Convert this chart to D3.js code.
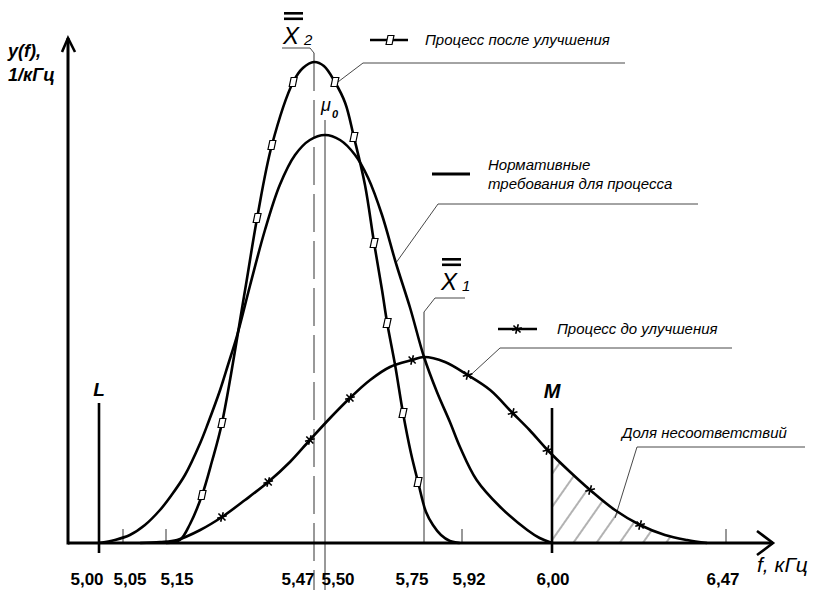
<!DOCTYPE html>
<html>
<head>
<meta charset="utf-8">
<script src="https://cdn.jsdelivr.net/npm/d3@7"></script>
<style>
  body { margin: 0; background: #fff; }
  text { fill: #000; }
  .lbl { font-family: "Liberation Sans", Arial, sans-serif; font-style: italic; font-size: 15px; }
  .tick-lbl { font-family: "Liberation Sans Narrow", "Arial Narrow", sans-serif; font-weight: bold; font-size: 17px; }
  .axis-lbl { font-family: "Liberation Sans Narrow", "Arial Narrow", sans-serif; font-style: italic; }
</style>
</head>
<body>
<svg id="chart" width="822" height="591"></svg>
<script>
// f axis, kHz (the drawing is not to scale, so the scale is piecewise)
const tickValues = [5.00, 5.05, 5.15, 5.47, 5.50, 5.75, 5.92, 6.00, 6.47];
const tickLabels = ["5,00", "5,05", "5,15", "5,47", "5,50", "5,75", "5,92", "6,00", "6,47"];
const smallTicks = [5.05, 5.15, 5.92, 6.47];
const limitL = 5.00, limitM = 6.00;
const meanX2 = 5.47, mu0 = 5.50, meanX1 = 5.75;

// y(f), 1/kHz  [f, y]
const afterCurve = [
  [5.15, 0], [5.180, 0.018], [5.202, 0.114], [5.228, 0.288], [5.249, 0.486], [5.271, 0.72],
  [5.321, 1.518], [5.347, 1.95], [5.379, 2.388], [5.425, 2.766], [5.446, 2.85], [5.47, 2.886],
  [5.497, 2.862], [5.525, 2.766], [5.551, 2.64], [5.573, 2.436], [5.601, 2.148], [5.624, 1.8],
  [5.644, 1.518], [5.657, 1.32], [5.677, 1.068], [5.697, 0.78], [5.717, 0.54], [5.735, 0.366],
  [5.759, 0.186], [5.790, 0.108], [5.826, 0.048], [5.866, 0.012], [5.91, 0]
];
const afterMarks = [
  [5.228, 0.288], [5.271, 0.72], [5.347, 1.95], [5.379, 2.388], [5.425, 2.766],
  [5.525, 2.766], [5.573, 2.436], [5.624, 1.8], [5.657, 1.32], [5.697, 0.78], [5.735, 0.366]
];
const normCurve = [
  [5.00, 0], [5.033, 0.018], [5.066, 0.048], [5.101, 0.108], [5.136, 0.198], [5.159, 0.276],
  [5.191, 0.408], [5.224, 0.6], [5.241, 0.72], [5.267, 0.918], [5.284, 1.068], [5.304, 1.248],
  [5.332, 1.548], [5.364, 1.878], [5.396, 2.148], [5.429, 2.328], [5.461, 2.418], [5.50, 2.448],
  [5.538, 2.418], [5.576, 2.328], [5.609, 2.19], [5.644, 1.968], [5.679, 1.68], [5.715, 1.41],
  [5.75, 1.116], [5.808, 0.906], [5.866, 0.726], [5.911, 0.576], [5.933, 0.378], [5.954, 0.216],
  [5.978, 0.078], [5.989, 0.03], [6.00, 0]
];
const beforeCurve = [
  [5.090, 0], [5.136, 0.006], [5.174, 0.018], [5.224, 0.078], [5.271, 0.156], [5.321, 0.258],
  [5.371, 0.366], [5.418, 0.486], [5.461, 0.618], [5.513, 0.75], [5.563, 0.87], [5.614, 0.978],
  [5.664, 1.056], [5.72, 1.098], [5.75, 1.116], [5.844, 1.086], [5.925, 1.008], [5.945, 0.918],
  [5.965, 0.78], [5.980, 0.678], [5.996, 0.558], [6.049, 0.426], [6.103, 0.318], [6.170, 0.198],
  [6.238, 0.108], [6.305, 0.048], [6.365, 0.018], [6.419, 0]
];
const beforeMarks = [
  [5.271, 0.156], [5.371, 0.366], [5.461, 0.618], [5.563, 0.87], [5.72, 1.098], [5.925, 1.008],
  [5.965, 0.78], [5.996, 0.558], [6.103, 0.318], [6.238, 0.108]
];

const legendAfter = "Процесс после улучшения";
const legendNorm = ["Нормативные", "требования для процесса"];
const legendBefore = "Процесс до улучшения";
const legendShare = "Доля несоответствий";

// layout
const svg = d3.select("#chart");
const x0 = 68, xEnd = 773, yTop = 38;
const x = d3.scaleLinear().domain(tickValues).range([99, 123, 166, 314, 325, 424, 462, 552, 726]);
const y = d3.scaleLinear().domain([0, 3]).range([543, 43]);
const labelDx = [-12, 7, 11, -16, 13, -12, 7, 1, -3];

const line = d3.line()
  .x(d => x(d[0])).y(d => y(d[1]))
  .curve(d3.curveCatmullRom.alpha(0.5));
const path = d3.line();

// hatch pattern for nonconformance share
const defs = svg.append("defs");
defs.append("pattern")
  .attr("id", "hatch")
  .attr("patternUnits", "userSpaceOnUse")
  .attr("width", 19).attr("height", 19)
  .attr("patternTransform", "rotate(35)")
  .append("line")
  .attr("x1", 2).attr("y1", 0).attr("x2", 2).attr("y2", 19)
  .attr("stroke", "#555").attr("stroke-width", 0.9);
defs.append("clipPath").attr("id", "tail")
  .append("rect")
  .attr("x", x(limitM)).attr("y", 0)
  .attr("width", xEnd - x(limitM)).attr("height", y(0));

const area = d3.area()
  .x(d => x(d[0])).y0(y(0)).y1(d => y(d[1]))
  .curve(d3.curveCatmullRom.alpha(0.5));
svg.append("path")
  .datum(beforeCurve)
  .attr("d", area)
  .attr("fill", "url(#hatch)")
  .attr("clip-path", "url(#tail)");

// thin reference lines
const thin = svg.append("g").attr("stroke", "#333").attr("stroke-width", 1).attr("fill", "none");
thin.append("line")
  .attr("x1", x(meanX2)).attr("x2", x(meanX2))
  .attr("y1", 53).attr("y2", 590)
  .attr("stroke-dasharray", "38,9");
thin.append("line")
  .attr("x1", x(mu0)).attr("x2", x(mu0))
  .attr("y1", 120).attr("y2", 590);
thin.append("line")
  .attr("x1", x(meanX1)).attr("x2", x(meanX1))
  .attr("y1", 312).attr("y2", y(0));
thin.selectAll(".small-tick")
  .data(smallTicks)
  .enter()
  .append("line")
  .attr("x1", d => x(d)).attr("x2", d => x(d))
  .attr("y1", y(0) - 14).attr("y2", y(0));

// leaders
const leaders = [
  [[x(meanX2), 53], [x(meanX2) - 4, 48], [282, 48]],
  [[x(meanX1), 312], [x(meanX1) + 11, 298], [465, 298]],
  [[x(afterMarks[5][0]) + 3, y(afterMarks[5][1])], [363, 63], [625, 63]],
  [[x(5.679), y(1.68)], [438, 204], [698, 204]],
  [[x(beforeMarks[5][0]) + 3, y(beforeMarks[5][1])], [500, 348], [732, 348]],
  [[615, 518], [637, 447], [805, 447]]
];
thin.selectAll(".leader")
  .data(leaders)
  .enter()
  .append("path")
  .attr("d", d => path(d))
  .attr("stroke-width", 0.9);

// curves
[afterCurve, normCurve, beforeCurve].forEach(c => {
  svg.append("path")
    .datum(c)
    .attr("d", line)
    .attr("fill", "none")
    .attr("stroke", "#000")
    .attr("stroke-width", 2.6);
});

// markers
function square(g, px, py) {
  g.append("rect")
    .attr("x", px - 3).attr("y", py - 4.5)
    .attr("width", 6).attr("height", 9)
    .attr("transform", `skewX(-12) translate(${py * Math.tan(12 * Math.PI / 180)},0)`)
    .attr("fill", "#fff").attr("stroke", "#000").attr("stroke-width", 1.2);
}
const star = d3.symbol().type(d3.symbolAsterisk).size(70);
function asterisk(g, px, py) {
  g.append("path")
    .attr("d", star)
    .attr("transform", `translate(${px},${py}) rotate(15)`)
    .attr("fill", "none").attr("stroke", "#000").attr("stroke-width", 1.6);
}
const marks = svg.append("g");
afterMarks.forEach(d => square(marks, x(d[0]), y(d[1])));
beforeMarks.forEach(d => asterisk(marks, x(d[0]), y(d[1])));

// limits L and M
svg.append("line")
  .attr("x1", x(limitL)).attr("x2", x(limitL))
  .attr("y1", 403).attr("y2", 553)
  .attr("stroke", "#000").attr("stroke-width", 2.6);
svg.append("line")
  .attr("x1", x(limitM)).attr("x2", x(limitM))
  .attr("y1", 408).attr("y2", 553)
  .attr("stroke", "#000").attr("stroke-width", 2.6);

// axes
const axes = svg.append("g").attr("stroke", "#000").attr("stroke-width", 3).attr("fill", "none");
axes.append("path").attr("d", path([[x0, y(0)], [xEnd, y(0)]]));
axes.append("path").attr("d", path([[x0, y(0) + 1.5], [x0, yTop]]));
axes.append("path").attr("d", path([[x0 - 6, yTop + 14], [x0, yTop], [x0 + 7, yTop + 14]]))
  .attr("stroke-width", 2.6);
axes.append("path").attr("d", path([[xEnd - 16, y(0) - 12], [xEnd, y(0)], [xEnd - 16, y(0) + 12]]))
  .attr("stroke-width", 2.6);

svg.append("g")
  .selectAll("text")
  .data(tickValues)
  .enter()
  .append("text")
  .attr("class", "tick-lbl")
  .attr("x", (d, i) => x(d) + labelDx[i])
  .attr("y", 585)
  .attr("text-anchor", "middle")
  .text((d, i) => tickLabels[i]);

svg.append("text").attr("class", "axis-lbl")
  .attr("x", 8).attr("y", 57).attr("font-size", "18px").attr("font-weight", "bold")
  .text("y(f),");
svg.append("text").attr("class", "axis-lbl")
  .attr("x", 8).attr("y", 81).attr("font-size", "18px").attr("font-weight", "bold")
  .text("1/кГц");
svg.append("text").attr("class", "axis-lbl")
  .attr("x", 757).attr("y", 572).attr("font-size", "21px")
  .text("f,  кГц");

// L, M
svg.append("text").attr("class", "axis-lbl")
  .attr("x", x(limitL)).attr("y", 396).attr("text-anchor", "middle")
  .attr("font-size", "19px").attr("font-weight", "bold").text("L");
svg.append("text").attr("class", "axis-lbl")
  .attr("x", x(limitM)).attr("y", 398).attr("text-anchor", "middle")
  .attr("font-size", "20px").attr("font-weight", "bold").text("M");

// means: X with double bar
function meanLabel(px, pyTop, sub) {
  const g = svg.append("g");
  g.append("rect").attr("x", px + 1).attr("y", pyTop).attr("width", 19).attr("height", 2.6);
  g.append("rect").attr("x", px + 1).attr("y", pyTop + 5.5).attr("width", 19).attr("height", 2.6);
  g.append("text").attr("class", "axis-lbl")
    .attr("x", px).attr("y", pyTop + 32).attr("font-size", "24px").text("X");
  g.append("text").attr("class", "axis-lbl")
    .attr("x", px + 21).attr("y", pyTop + 33).attr("font-size", "15px").text(sub);
}
meanLabel(283, 12, "2");
meanLabel(441, 258, "1");

svg.append("text").attr("class", "axis-lbl")
  .attr("x", 321).attr("y", 111).attr("font-size", "18px").text("μ");
svg.append("text").attr("class", "axis-lbl")
  .attr("x", 332).attr("y", 118).attr("font-size", "11px").attr("font-weight", "bold").text("0");

// legend symbols and texts
const lg = svg.append("g").attr("stroke", "#000").attr("fill", "none");
lg.append("line").attr("x1", 370).attr("x2", 408).attr("y1", 40).attr("y2", 40).attr("stroke-width", 2.6);
square(svg, 390, 40);
lg.append("line").attr("x1", 432).attr("x2", 470).attr("y1", 174).attr("y2", 174).attr("stroke-width", 3);
lg.append("line").attr("x1", 498).attr("x2", 537).attr("y1", 329).attr("y2", 329).attr("stroke-width", 2.6);
asterisk(svg, 517, 329);

svg.append("text").attr("class", "lbl").attr("x", 425).attr("y", 45).text(legendAfter);
svg.append("text").attr("class", "lbl").attr("x", 488).attr("y", 170).text(legendNorm[0]);
svg.append("text").attr("class", "lbl").attr("x", 488).attr("y", 189).text(legendNorm[1]);
svg.append("text").attr("class", "lbl").attr("x", 557).attr("y", 334).text(legendBefore);
svg.append("text").attr("class", "lbl").attr("x", 622).attr("y", 438).text(legendShare);
</script>
</body>
</html>
